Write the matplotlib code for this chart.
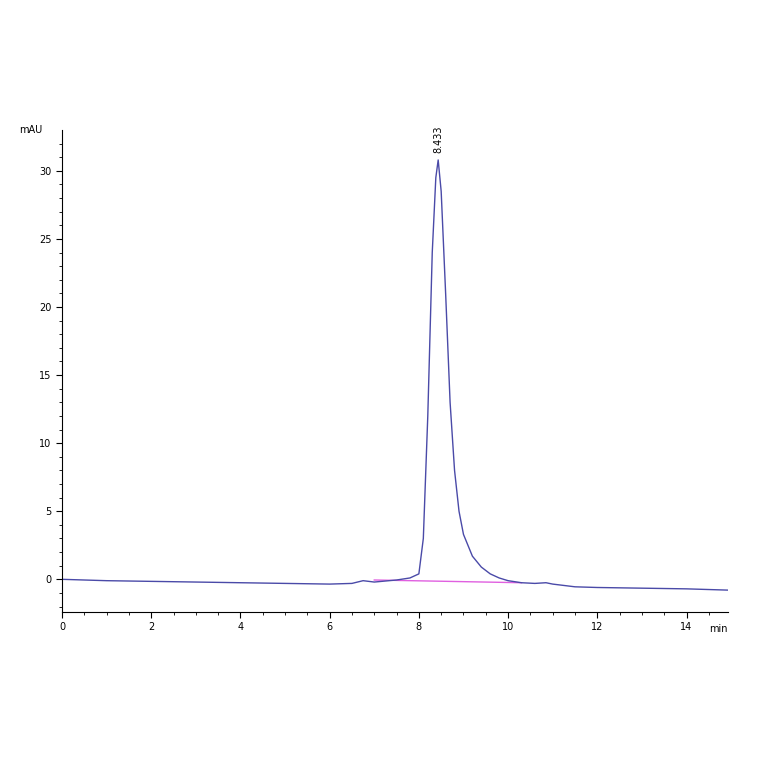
import matplotlib.pyplot as plt

# chromatogram trace (min, mAU)
t = [0, 1, 2, 3, 4, 5, 6, 6.5, 6.75, 7.0, 7.5, 7.8, 8.0, 8.1, 8.2, 8.3, 8.38, 8.433,
     8.5, 8.6, 8.7, 8.8, 8.9, 9.0, 9.2, 9.4, 9.6, 9.8, 10.0, 10.3, 10.6, 10.85, 11.0,
     11.5, 12, 13, 14, 15]
mau = [0.0, -0.1, -0.15, -0.2, -0.25, -0.3, -0.35, -0.3, -0.1, -0.2, -0.05, 0.1, 0.4,
       3.0, 12.0, 24.0, 29.5, 30.8, 28.5, 21.0, 13.0, 8.0, 5.0, 3.3, 1.7, 0.9, 0.4,
       0.1, -0.1, -0.25, -0.3, -0.25, -0.35, -0.55, -0.6, -0.65, -0.7, -0.8]
base_t = [7.0, 10.3]
base_y = [-0.05, -0.25]
peak_t = 8.433
peak_label = "8.433"

fig = plt.figure(figsize=(7.64, 7.64), dpi=100)
ax = fig.add_axes([62/764, 1-612/764, 666/764, 482/764])
ax.plot(base_t, base_y, color="#e060e0", lw=1)
ax.plot(t, mau, color="#4a4aa8", lw=1)
ax.text(peak_t, 31.3, peak_label, rotation=90, ha="center", va="bottom", fontsize=7)

ax.set_xlim(0, 14.93)
ax.set_ylim(-2.4, 33.0)
ax.set_xticks([0, 2, 4, 6, 8, 10, 12, 14])
ax.set_yticks([0, 5, 10, 15, 20, 25, 30])
ax.set_xticks([i * 0.5 for i in range(30)], minor=True)
ax.set_yticks([i for i in range(-2, 33)], minor=True)
ax.tick_params(labelsize=7, length=4, direction="out")
ax.tick_params(which="minor", length=2)
for s in ["top", "right"]:
    ax.spines[s].set_visible(False)
ax.text(-0.03, 1.0, "mAU", transform=ax.transAxes, ha="right", va="center", fontsize=7)
ax.text(1.0, -0.035, "min", transform=ax.transAxes, ha="right", va="center", fontsize=7)

fig.savefig("out.png")
